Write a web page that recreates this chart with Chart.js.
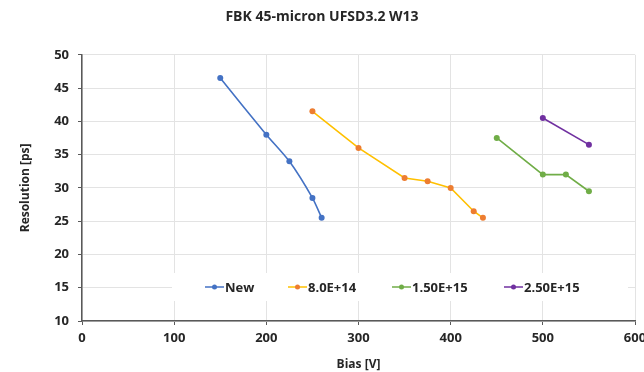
<!DOCTYPE html>
<html>
<head>
<meta charset="utf-8">
<script src="https://cdn.jsdelivr.net/npm/chart.js@4.4.1/dist/chart.umd.min.js"></script>
<style>
  html, body { margin: 0; padding: 0; background: #fff; }
  #wrap { width: 644px; height: 372px; }
</style>
</head>
<body>
<div id="wrap"><canvas id="resChart" width="644" height="372"></canvas></div>
<script>
// Bias [V] and resolution [ps] per fluence
const newBias = [150, 200, 225, 250, 260];
const newRes = [46.5, 38, 34, 28.5, 25.5];
const f8e14Bias = [250, 300, 350, 375, 400, 425, 435];
const f8e14Res = [41.5, 36, 31.5, 31, 30, 26.5, 25.5];
const f15e15Bias = [450, 500, 525, 550];
const f15e15Res = [37.5, 32, 32, 29.5];
const f25e15Bias = [500, 550];
const f25e15Res = [40.5, 36.5];
const seriesNames = ["New", "8.0E+14", "1.50E+15", "2.50E+15"];
const xTicks = [0, 100, 200, 300, 400, 500, 600];
const yTicks = [10, 15, 20, 25, 30, 35, 40, 45, 50];

const fontFam = "'Open Sans', sans-serif";
const textCol = "#262626";

function pts(xs, ys) {
    return xs.map((x, i) => ({ x: x, y: ys[i] }));
}

// legend drawn inside the plot, over the grid, like Excel does
const insideLegend = {
    id: "insideLegend",
    afterDatasetsDraw(chart) {
        const ctx = chart.ctx;
        const area = chart.chartArea;
        const top = area.bottom - 48;
        const h = 28;
        ctx.save();
        ctx.fillStyle = "#fff";
        ctx.fillRect(area.left + 90, top, 456, h);
        ctx.font = "bold 13px " + fontFam;
        ctx.textBaseline = "middle";
        const cy = top + h / 2;
        const starts = [area.left + 123, area.left + 206, area.left + 310, area.left + 422];
        chart.data.datasets.forEach((ds, i) => {
            const x0 = starts[i];
            ctx.strokeStyle = ds.borderColor;
            ctx.lineWidth = 1.5;
            ctx.beginPath();
            ctx.moveTo(x0, cy);
            ctx.lineTo(x0 + 19, cy);
            ctx.stroke();
            ctx.fillStyle = ds.pointBackgroundColor;
            ctx.beginPath();
            ctx.arc(x0 + 9.5, cy, 2.5, 0, Math.PI * 2);
            ctx.fill();
            ctx.fillStyle = textCol;
            ctx.fillText(ds.label, x0 + 20, cy + 1);
        });
        ctx.restore();
    }
};

const ctx = document.getElementById("resChart").getContext("2d");
new Chart(ctx, {
    type: "line",
    data: {
        datasets: [
            {
                label: seriesNames[0],
                data: pts(newBias, newRes),
                borderColor: "#4472C4",
                pointBackgroundColor: "#4472C4",
                pointBorderColor: "#4472C4",
                tension: 0.25
            },
            {
                label: seriesNames[1],
                data: pts(f8e14Bias, f8e14Res),
                borderColor: "#FFC000",
                pointBackgroundColor: "#ED7D31",
                pointBorderColor: "#ED7D31"
            },
            {
                label: seriesNames[2],
                data: pts(f15e15Bias, f15e15Res),
                borderColor: "#70AD47",
                pointBackgroundColor: "#70AD47",
                pointBorderColor: "#70AD47"
            },
            {
                label: seriesNames[3],
                data: pts(f25e15Bias, f25e15Res),
                borderColor: "#7030A0",
                pointBackgroundColor: "#7030A0",
                pointBorderColor: "#7030A0"
            }
        ]
    },
    options: {
        responsive: false,
        animation: false,
        devicePixelRatio: 1,
        layout: { padding: { left: 0, right: 0, top: 0, bottom: 0 } },
        elements: {
            line: { borderWidth: 1.6, fill: false },
            point: { radius: 3, borderWidth: 0, hoverRadius: 3 }
        },
        plugins: {
            legend: { display: false },
            tooltip: { enabled: false },
            title: {
                display: true,
                text: "FBK 45-micron UFSD3.2 W13",
                color: textCol,
                font: { family: fontFam, size: 14, weight: "bold" },
                padding: { top: 9, bottom: 29 }
            }
        },
        scales: {
            x: {
                type: "linear",
                min: 0,
                max: 600,
                afterBuildTicks: s => { s.ticks = xTicks.map(v => ({ value: v })); },
                afterFit: s => {
                    s.height = 51;
                    s.paddingLeft = 0;
                    s.paddingRight = 9;
                },
                grid: { color: "#e3e3e3", tickColor: "#595959", tickLength: 4 },
                border: { color: "#595959", width: 1.5 },
                ticks: {
                    color: textCol,
                    padding: 5,
                    font: { family: fontFam, size: 13, weight: "bold" }
                },
                title: {
                    display: true,
                    text: "Bias [V]",
                    color: textCol,
                    padding: { top: 1, bottom: 0 },
                    font: { family: fontFam, size: 12, weight: "bold" }
                }
            },
            y: {
                type: "linear",
                min: 10,
                max: 50,
                afterBuildTicks: s => { s.ticks = yTicks.map(v => ({ value: v })); },
                afterFit: s => { s.width = 82; },
                grid: { color: "#e3e3e3", tickColor: "#595959", tickLength: 4 },
                border: { color: "#595959", width: 1.5 },
                ticks: {
                    color: textCol,
                    padding: 9,
                    font: { family: fontFam, size: 13, weight: "bold" }
                },
                title: {
                    display: true,
                    text: "Resolution [ps]",
                    color: textCol,
                    padding: { top: 18, bottom: 0 },
                    font: { family: fontFam, size: 12, weight: "bold" }
                }
            }
        }
    },
    plugins: [insideLegend]
});
</script>
</body>
</html>
